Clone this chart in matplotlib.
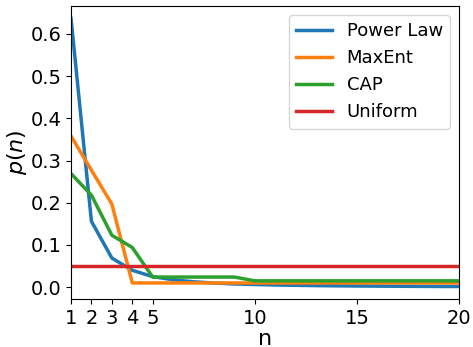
import matplotlib
matplotlib.use("Agg")
import matplotlib.pyplot as plt
import numpy as np

n = list(range(1, 21))
power_law = [0.637, 0.156, 0.069, 0.040, 0.025, 0.0175, 0.0128, 0.0098, 0.0077, 0.0063,
             0.0052, 0.0044, 0.0037, 0.0032, 0.0028, 0.0025, 0.0022, 0.0019, 0.0017, 0.0016]
maxent = [0.358, 0.277, 0.197, 0.010, 0.010, 0.010, 0.010, 0.010, 0.010, 0.010,
          0.010, 0.010, 0.010, 0.010, 0.010, 0.010, 0.010, 0.010, 0.010, 0.010]
cap = [0.269, 0.218, 0.123, 0.094, 0.024, 0.024, 0.024, 0.024, 0.024, 0.015,
       0.015, 0.015, 0.015, 0.015, 0.015, 0.015, 0.015, 0.015, 0.015, 0.015]
uniform = [0.05] * 20
labels = ["Power Law", "MaxEnt", "CAP", "Uniform"]
xticks = [1, 2, 3, 4, 5, 10, 15, 20]

fig = plt.figure(figsize=(4.73, 3.47), dpi=100)
ax = fig.add_axes([71/473, 1-299/347, (459-71)/473, (299-6)/347])
for ys, lab, c in zip([power_law, maxent, cap, uniform], labels,
                      ["#1f77b4", "#ff7f0e", "#2ca02c", "#d62728"]):
    ax.plot(n, ys, label=lab, color=c, lw=2.5)
ax.set_xlim(1, 20)
ax.set_ylim(-0.028, 0.666)
ax.set_xticks(xticks)
ax.set_xticklabels([str(t) for t in xticks])
ax.set_yticks([0.0, 0.1, 0.2, 0.3, 0.4, 0.5, 0.6])
ax.tick_params(labelsize=14)
ax.set_xlabel("n", fontsize=16, labelpad=1)
ax.set_ylabel("$p(n)$", fontsize=16, labelpad=1)
ax.legend(fontsize=13, loc="upper right")
fig.savefig("out.png", dpi=100)
